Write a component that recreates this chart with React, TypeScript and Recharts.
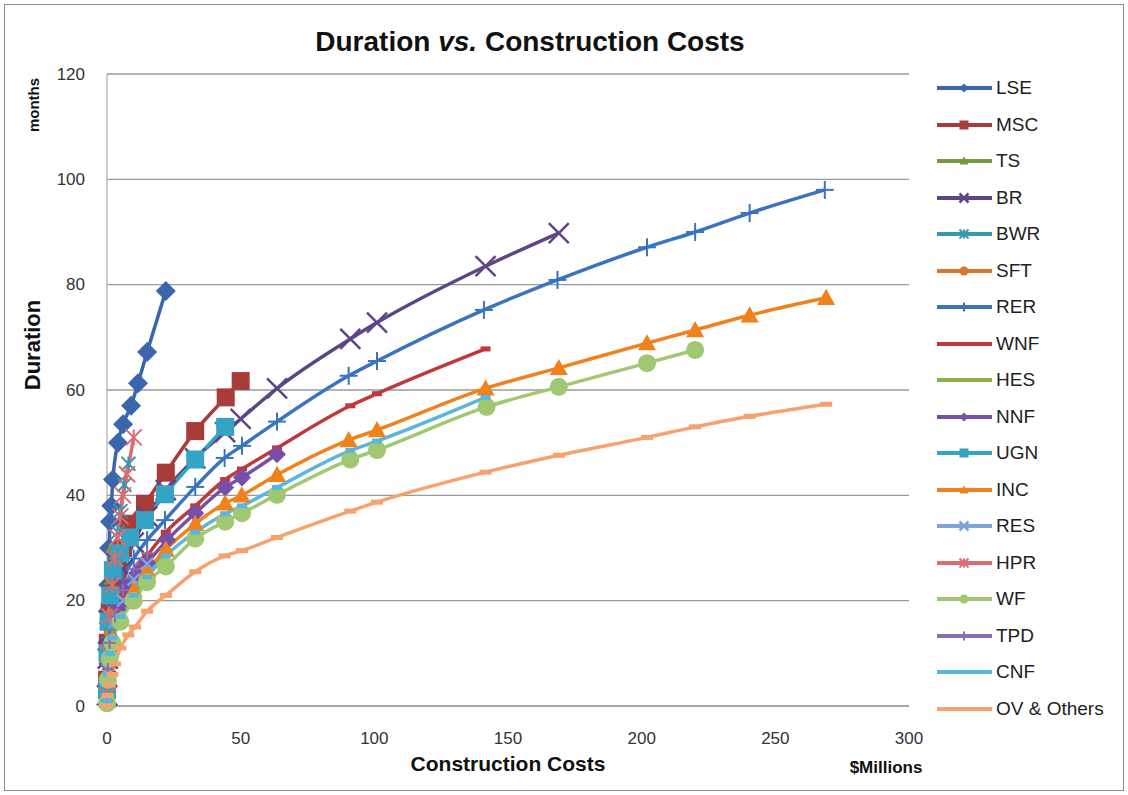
import { CartesianGrid, Line, LineChart, XAxis, YAxis } from "recharts";

type Pair = [number, number];

const X_TICKS = [0, 50, 100, 150, 200, 250, 300];
const Y_TICKS = [0, 20, 40, 60, 80, 100, 120];

// [cost $M, duration months]
const LSE: Pair[] = [[0.02, 4], [0.1, 12], [0.3, 18], [0.5, 23], [0.8, 30], [1.1, 35], [1.6, 38], [2.2, 43], [4.1, 50], [6, 53.5], [9, 57], [11.6, 61.3], [15, 67.2], [22, 78.8]];
const MSC: Pair[] = [[0.05, 5], [0.3, 12], [1, 18], [2, 22], [4, 26], [6, 30], [8.3, 34.6], [14.2, 38.4], [22, 44.3], [33, 52.2], [44.4, 58.6], [50, 61.7]];
const TS: Pair[] = [[0.02, 2], [0.2, 10], [0.5, 18], [1, 24], [1.5, 30]];
const BR: Pair[] = [[0.02, 2], [0.3, 9], [1, 14], [3, 20], [6, 26], [10, 31], [15, 36], [22, 41], [33, 47], [44.2, 52], [50, 54.5], [63.6, 60.3], [91, 69.7], [101, 72.8], [141.6, 83.5], [169, 89.8]];
const BWR: Pair[] = [[0.02, 2], [0.3, 10], [1, 17], [2, 23], [3, 28], [4, 33], [5, 37], [6.5, 42], [8, 46]];
const SFT: Pair[] = [[0.02, 1], [0.2, 6], [0.5, 10], [1, 14], [2, 18]];
const RER: Pair[] = [[0.02, 2], [0.3, 8], [1, 13], [3, 19], [6, 24], [10, 28], [15, 31.5], [21.7, 35.3], [33, 41.6], [44, 47.1], [50.5, 49.4], [63.6, 54], [90.4, 62.7], [101, 65.5], [141, 75.2], [168.5, 80.9], [202, 87.1], [220, 90], [240.4, 93.6], [268.5, 98]];
const WNF: Pair[] = [[0.02, 2], [0.3, 8], [1, 12], [3, 17], [6, 21], [10, 25], [15, 28.5], [22, 33], [33, 38], [44.2, 43], [50.5, 45], [63.6, 49], [91, 57], [101, 59.3], [141.6, 67.8]];
const HES: Pair[] = [[0.02, 1], [0.3, 6], [1, 10], [3, 15], [6, 19], [10, 22.5], [15, 25.5], [22, 29.5]];
const NNF: Pair[] = [[0.02, 2], [0.3, 8], [1, 12], [2, 16], [4, 19], [7, 22.5], [11, 25], [15, 27.2], [22.5, 31.5], [33, 36.6], [44.2, 41.5], [50.5, 43.4], [63.6, 47.8]];
const UGN: Pair[] = [[0.02, 3], [0.2, 10], [0.6, 16], [1.2, 21], [2.2, 25.8], [4.9, 29], [8.6, 32], [14.2, 35.3], [21.7, 40.2], [33, 46.8], [44.2, 53]];
const INC: Pair[] = [[0.02, 1], [0.3, 6], [1, 10], [2, 12.5], [5, 16.5], [10, 22], [15, 25.7], [22, 29.7], [33, 34.6], [44.2, 38.5], [50.4, 40], [63.6, 43.9], [90.4, 50.5], [101, 52.4], [141.6, 60.3], [169, 64.2], [202, 68.9], [220, 71.4], [240.4, 74.2], [269, 77.5]];
const RES: Pair[] = [[0.02, 1], [0.3, 7], [1, 11], [3, 16], [6, 20], [10, 24], [15, 27]];
const HPR: Pair[] = [[0.02, 2], [0.3, 10], [1, 17], [2, 23], [3, 28], [4, 32], [5, 36], [6, 40], [7.5, 44], [10, 51]];
const WF: Pair[] = [[0.02, 0.5], [0.3, 5], [1, 9], [2, 12], [5, 16], [10, 20], [15, 23.5], [22, 26.5], [33, 31.8], [44.2, 35], [50.5, 36.6], [63.6, 40.1], [91, 46.8], [101, 48.6], [142, 56.8], [169, 60.6], [202, 65.1], [220, 67.6]];
const TPD: Pair[] = [[0.02, 1], [0.3, 7], [1, 12], [3, 17], [6, 22], [10, 26], [15, 29]];
const CNF: Pair[] = [[0.02, 1], [0.3, 6], [1, 10], [2, 13], [5, 17], [10, 21], [15, 24.5], [22, 28.5], [33, 33], [44.2, 36.5], [50.5, 38], [63.6, 41.5], [91, 48.5], [101, 50.3], [141.6, 58.6]];
const OV: Pair[] = [[0.01, 0], [0.3, 2], [1, 4], [2, 6], [3, 8], [5, 11], [8, 13.5], [10.5, 15], [15, 18], [22, 21], [33, 25.5], [44, 28.5], [50.5, 29.5], [63.6, 32], [91, 37], [101, 38.7], [141.6, 44.4], [169, 47.6], [202, 51], [220, 53], [240.4, 55], [269, 57.3]];

type Shape = "diamond" | "square" | "triangle" | "x" | "star" | "circle" | "plus" | "dash" | "longdash";

const SERIES: { name: string; color: string; shape: Shape; size: number; pts: Pair[] }[] = [
  { name: "LSE", color: "#3a66ad", shape: "diamond", size: 20, pts: LSE },
  { name: "MSC", color: "#a83c3a", shape: "square", size: 18, pts: MSC },
  { name: "TS", color: "#76993c", shape: "triangle", size: 12, pts: TS },
  { name: "BR", color: "#5e4585", shape: "x", size: 20, pts: BR },
  { name: "BWR", color: "#3797ae", shape: "star", size: 14, pts: BWR },
  { name: "SFT", color: "#d9782c", shape: "circle", size: 12, pts: SFT },
  { name: "RER", color: "#3a73c0", shape: "plus", size: 18, pts: RER },
  { name: "WNF", color: "#c0393a", shape: "dash", size: 10, pts: WNF },
  { name: "HES", color: "#86b342", shape: "longdash", size: 12, pts: HES },
  { name: "NNF", color: "#7650a8", shape: "diamond", size: 18, pts: NNF },
  { name: "UGN", color: "#35a3c2", shape: "square", size: 18, pts: UGN },
  { name: "INC", color: "#f0821e", shape: "triangle", size: 18, pts: INC },
  { name: "RES", color: "#7ea3d8", shape: "x", size: 12, pts: RES },
  { name: "HPR", color: "#dc6b74", shape: "star", size: 16, pts: HPR },
  { name: "WF", color: "#a0c872", shape: "circle", size: 18, pts: WF },
  { name: "TPD", color: "#8b6db3", shape: "plus", size: 12, pts: TPD },
  { name: "CNF", color: "#5ab6da", shape: "dash", size: 10, pts: CNF },
  { name: "OV & Others", color: "#f7a26e", shape: "longdash", size: 12, pts: OV },
];

const FONT = '"Liberation Sans", Arial, sans-serif';

function Marker({ shape, cx, cy, size, color }: { shape: Shape; cx: number; cy: number; size: number; color: string }) {
  const s = size / 2;
  switch (shape) {
    case "diamond":
      return <polygon points={`${cx},${cy - s} ${cx + s},${cy} ${cx},${cy + s} ${cx - s},${cy}`} fill={color} />;
    case "square":
      return <rect x={cx - s} y={cy - s} width={size} height={size} fill={color} />;
    case "triangle":
      return <polygon points={`${cx},${cy - s} ${cx + s},${cy + s * 0.8} ${cx - s},${cy + s * 0.8}`} fill={color} />;
    case "circle":
      return <circle cx={cx} cy={cy} r={s} fill={color} />;
    case "x":
      return (
        <g stroke={color} strokeWidth={2.5}>
          <line x1={cx - s} y1={cy - s} x2={cx + s} y2={cy + s} />
          <line x1={cx - s} y1={cy + s} x2={cx + s} y2={cy - s} />
        </g>
      );
    case "star":
      return (
        <g stroke={color} strokeWidth={2}>
          <line x1={cx - s} y1={cy - s} x2={cx + s} y2={cy + s} />
          <line x1={cx - s} y1={cy + s} x2={cx + s} y2={cy - s} />
          <line x1={cx} y1={cy - s} x2={cx} y2={cy + s} />
        </g>
      );
    case "plus":
      return (
        <g stroke={color} strokeWidth={2}>
          <line x1={cx - s} y1={cy} x2={cx + s} y2={cy} />
          <line x1={cx} y1={cy - s} x2={cx} y2={cy + s} />
        </g>
      );
    case "dash":
      return <rect x={cx - s} y={cy - 2.5} width={size} height={5} fill={color} />;
    default:
      return <rect x={cx - s} y={cy - 2.5} width={size} height={5} fill={color} />;
  }
}

function Legend() {
  return (
    <div style={{ position: "absolute", left: 936, top: 70, fontFamily: FONT }}>
      {SERIES.map((s) => (
        <div key={s.name} style={{ height: 36.5, display: "flex", alignItems: "center" }}>
          <svg width={58} height={20}>
            <line x1={1} y1={10} x2={56} y2={10} stroke={s.color} strokeWidth={4} />
            {s.shape !== "dash" && s.shape !== "longdash" && (
              <Marker shape={s.shape} cx={28} cy={10} size={9} color={s.color} />
            )}
          </svg>
          <span style={{ fontSize: 19, color: "#222", marginLeft: 2 }}>{s.name}</span>
        </div>
      ))}
    </div>
  );
}

export default function App() {
  return (
    <div
      style={{
        position: "absolute",
        left: 0,
        top: 0,
        width: 1128,
        height: 795,
        background: "#fff",
        fontFamily: FONT,
      }}
    >
      <div
        style={{
          position: "absolute",
          left: 4,
          top: 4,
          width: 1118,
          height: 785,
          border: "1px solid #8c8c8c",
        }}
      />
      <LineChart width={1128} height={795} margin={{ top: 74, right: 219, bottom: 59, left: 67 }}>
        <CartesianGrid vertical={false} stroke="#9a9a9a" strokeWidth={1.3} />
        <XAxis
          type="number"
          dataKey="x"
          domain={[0, 300]}
          ticks={X_TICKS}
          allowDuplicatedCategory={false}
          height={30}
          axisLine={{ stroke: "#9a9a9a" }}
          tickLine={false}
          tick={(p: any) => (
            <text x={p.x} y={p.y + 24} textAnchor="middle" dominantBaseline="central" fontSize={17} fill="#333" fontFamily={FONT}>
              {p.payload.value}
            </text>
          )}
        />
        <YAxis
          type="number"
          dataKey="y"
          domain={[0, 120]}
          ticks={Y_TICKS}
          width={40}
          axisLine={{ stroke: "#9a9a9a" }}
          tickLine={false}
          tick={(p: any) => (
            <text x={p.x - 14} y={p.y} textAnchor="end" dominantBaseline="central" fontSize={17} fill="#333" fontFamily={FONT}>
              {p.payload.value}
            </text>
          )}
        />
        {SERIES.map((s) => (
          <Line
            key={s.name}
            data={s.pts.map(([x, y]) => ({ x, y }))}
            dataKey="y"
            name={s.name}
            type="monotone"
            stroke={s.color}
            strokeWidth={3.5}
            isAnimationActive={false}
            dot={(p: any) => (
              <Marker key={`${s.name}-${p.index}`} shape={s.shape} cx={p.cx} cy={p.cy} size={s.size} color={s.color} />
            )}
            activeDot={false}
          />
        ))}
      </LineChart>
      <div
        style={{
          position: "absolute",
          left: 0,
          width: 1060,
          top: 26,
          textAlign: "center",
          fontSize: 28,
          fontWeight: "bold",
          color: "#111",
        }}
      >
        Duration <i>vs.</i> Construction Costs
      </div>
      <div
        style={{
          position: "absolute",
          left: 33,
          top: 345,
          transform: "translate(-50%, -50%) rotate(-90deg)",
          fontSize: 22,
          fontWeight: "bold",
          color: "#111",
          whiteSpace: "nowrap",
        }}
      >
        Duration
      </div>
      <div
        style={{
          position: "absolute",
          left: 33,
          top: 105,
          transform: "translate(-50%, -50%) rotate(-90deg)",
          fontSize: 15,
          fontWeight: "bold",
          color: "#111",
          whiteSpace: "nowrap",
        }}
      >
        months
      </div>
      <div
        style={{
          position: "absolute",
          left: 508,
          top: 764,
          transform: "translate(-50%, -50%)",
          fontSize: 21,
          fontWeight: "bold",
          color: "#111",
          whiteSpace: "nowrap",
          lineHeight: "22px",
        }}
      >
        Construction Costs
      </div>
      <div
        style={{
          position: "absolute",
          left: 886,
          top: 768,
          transform: "translate(-50%, -50%)",
          fontSize: 17,
          fontWeight: "bold",
          color: "#111",
          whiteSpace: "nowrap",
          lineHeight: "18px",
        }}
      >
        $Millions
      </div>
      <Legend />
    </div>
  );
}
